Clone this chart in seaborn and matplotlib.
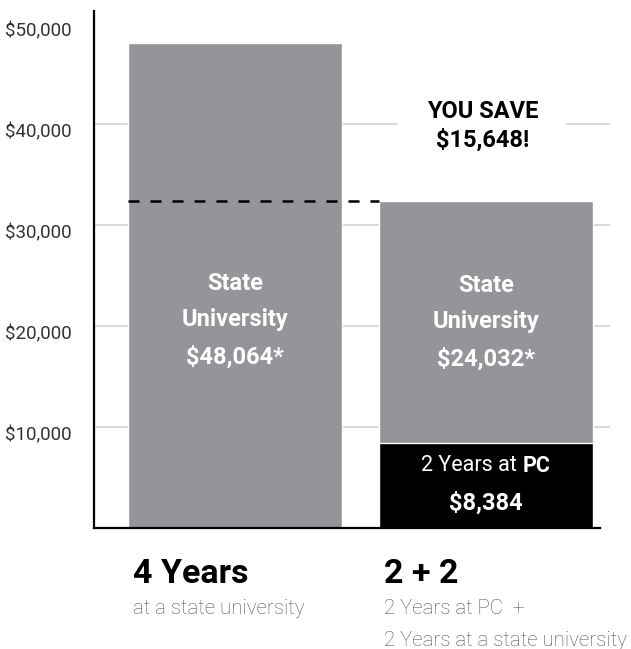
import numpy as np
import pandas as pd
import matplotlib
import matplotlib.pyplot as plt
import matplotlib.transforms as mtransforms
import seaborn as sns

# values
categories = ['4 Years', '2 + 2']
state_cost = [48064, 24032]
pc_cost = [0, 8384]
tick_values = [10000, 20000, 30000, 40000, 50000]
tick_labels = ['$10,000', '$20,000', '$30,000', '$40,000', '$50,000']
titles = ['4 Years', '2 + 2']
subtitles = [['at a state university'], ['2 Years at PC  +', '2 Years at a state university']]

sns.set_style('white')
plt.rcParams['font.family'] = ['Roboto', 'DejaVu Sans']

totals = [s + p for s, p in zip(state_cost, pc_cost)]
df = pd.DataFrame({'plan': categories, 'total': totals, 'pc': pc_cost})

GRAY = '#949599'
fig = plt.figure(figsize=(6.31, 6.49), dpi=100)
ax = fig.add_axes([94/631, 1-528/649, (610-94)/631, (528-11)/649])

W = 0.853
sns.barplot(data=df, x='plan', y='total', order=categories, color=GRAY,
            saturation=1, width=W, ax=ax, zorder=2)
sns.barplot(data=df, x='plan', y='pc', order=categories, color='black',
            saturation=1, width=W, ax=ax, zorder=3)

ax.set_xlim(-0.562, 1.494)
ax.set_ylim(0, 51190)
ax.set_xlabel('')
ax.set_ylabel('')
ax.set_xticks([])

# grid, only up to 40k
ax.set_yticks(tick_values)
ax.set_yticklabels(tick_labels)
for v in tick_values[:-1]:
    ax.axhline(v, color='#d5d5d5', lw=1.3, zorder=1)
ax.tick_params(axis='y', length=0, pad=16, labelsize=13.5, labelcolor='#333333')
off = mtransforms.ScaledTranslation(0, -6/100, fig.dpi_scale_trans)
for lab in ax.get_yticklabels():
    lab.set_transform(lab.get_transform() + off)

for s in ['top', 'right']:
    ax.spines[s].set_visible(False)
for s in ['left', 'bottom']:
    ax.spines[s].set_color('black')
    ax.spines[s].set_linewidth(1.6)
    ax.spines[s].set_zorder(5)

bars = ax.patches[:2]
lefts = [b.get_x() for b in bars]
ax.spines['bottom'].set_bounds(ax.get_xlim()[0], lefts[1] + W + 0.028)

# dashed comparison line at the 2+2 total
ax.plot([lefts[0], lefts[1]], [totals[1], totals[1]], color='black', lw=1.8,
        dashes=(4.4, 4.4), zorder=4)

# labels inside bars
for i, y0 in enumerate([24250, 24060]):
    step = 3600
    ax.text(i, y0, 'State', color='white', fontsize=17, fontweight='bold',
            ha='center', va='center', zorder=6)
    ax.text(i, y0 - step, 'University', color='white', fontsize=17, fontweight='bold',
            ha='center', va='center', zorder=6)
    ax.text(i, y0 - 2*step - 150, f'${state_cost[i]:,}*', color='white', fontsize=17,
            fontweight='bold', ha='center', va='center', zorder=6)

# "2 Years at PC" with PC in bold, centred on the black bar
t1 = ax.text(1, 6140, '2 Years at ', color='white', fontsize=15.5, ha='right',
             va='center', zorder=6)
t2 = ax.text(1, 6140, 'PC', color='white', fontsize=15.5, fontweight='bold',
             ha='left', va='center', zorder=6)
fig.canvas.draw()
r = fig.canvas.get_renderer()
w1 = t1.get_window_extent(r).width
w2 = t2.get_window_extent(r).width
shift = mtransforms.ScaledTranslation((w1 - w2) / 2 / fig.dpi, 0, fig.dpi_scale_trans)
t1.set_transform(ax.transData + shift)
t2.set_transform(ax.transData + shift)
ax.text(1, 2470, f'${pc_cost[1]:,}', color='white', fontsize=17, fontweight='bold',
        ha='center', va='center', zorder=6)

saving = totals[0] - totals[1]
ax.text(0.985, 39800, f'YOU SAVE\n${saving:,}!', color='black', fontsize=17,
        fontweight='bold', ha='center', va='center', linespacing=1.3, zorder=6,
        bbox=dict(boxstyle='square,pad=1.2', fc='white', ec='none'))

# captions under the bars
for i in range(2):
    xf = ax.transData.transform((lefts[i], 0))[0] / fig.bbox.width + 5/631
    fig.text(xf, 1 - 574/649, titles[i], fontsize=24.5, fontweight='bold',
             color='black', ha='left', va='center')
    for j, s in enumerate(subtitles[i]):
        fig.text(xf, 1 - (609 + 32*j)/649, s, fontsize=14.8, fontweight='light',
                 color='#555555', ha='left', va='center')

fig.savefig('out.png', dpi=100)
